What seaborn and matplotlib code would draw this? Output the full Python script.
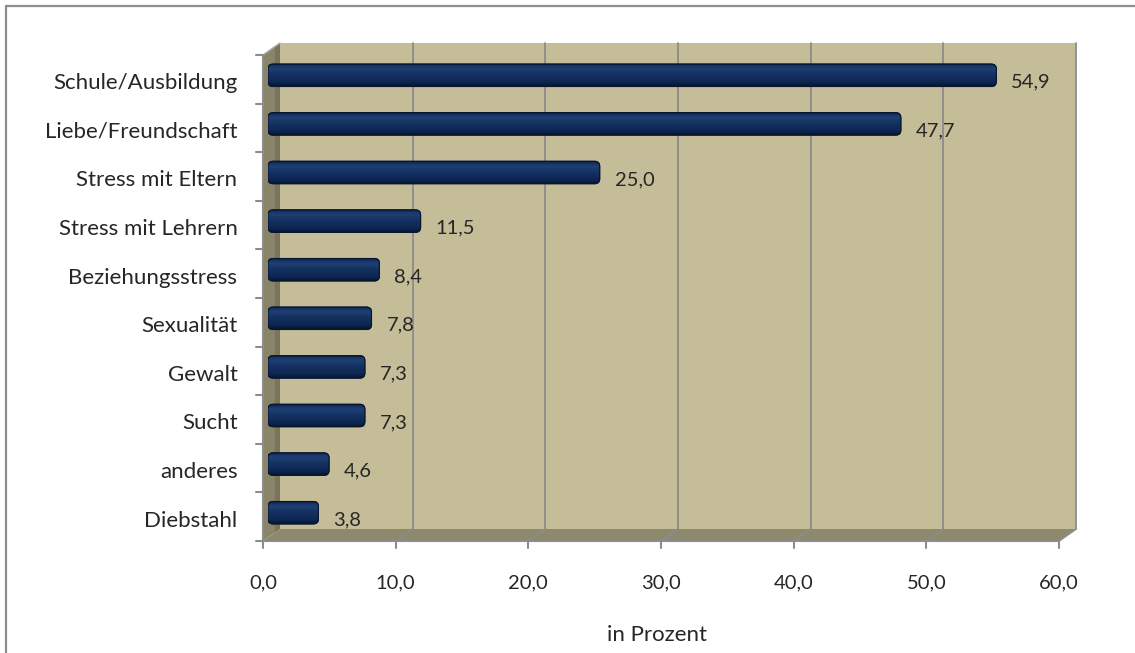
import numpy as np
import pandas as pd
import matplotlib
matplotlib.use("Agg")
import matplotlib.pyplot as plt
import seaborn as sns
from matplotlib.patches import Polygon, FancyBboxPatch
from matplotlib.lines import Line2D
from matplotlib.transforms import IdentityTransform, ScaledTranslation
from matplotlib.colors import LinearSegmentedColormap

# ---- data ----
categories = ["Schule/Ausbildung", "Liebe/Freundschaft", "Stress mit Eltern",
              "Stress mit Lehrern", "Beziehungsstress", "Sexualität", "Gewalt",
              "Sucht", "anderes", "Diebstahl"]
values = [54.9, 47.7, 25.0, 11.5, 8.4, 7.8, 7.3, 7.3, 4.6, 3.8]
x_ticks = [0, 10, 20, 30, 40, 50, 60]
x_tick_labels = ["0,0", "10,0", "20,0", "30,0", "40,0", "50,0", "60,0"]
x_label = "in Prozent"

df = pd.DataFrame({"Kategorie": categories, "Prozent": values})

sns.set_theme(style="white")
plt.rcParams["font.family"] = ["Lato", "DejaVu Sans"]

W, H, DPI = 1135, 653, 100
fig = plt.figure(figsize=(W / DPI, H / DPI), dpi=DPI)
fig.patch.set_facecolor("white")

# plotting plane (the depth at which the bars sit), in pixels
L, R, T, B = 268, 1064, 51, 537
ax = fig.add_axes([L / W, 1 - B / H, (R - L) / W, (B - T) / H])
ax.set_facecolor("none")

sns.barplot(data=df, y="Kategorie", x="Prozent", orient="h", width=0.46,
            color="#102B5A", ax=ax, zorder=3)
ax.set_xlim(0, 60)
ax.set_ylim(len(categories) - 0.5, -0.5)
for s in ax.spines.values():
    s.set_visible(False)
ax.set_xlabel("")
ax.set_ylabel("")

# depth offsets (display pixels, y up)
BACK = np.array([12.0, 8.0])
FRONT = np.array([-5.0, -4.0])


def px(xd, yd, off):
    return ax.transData.transform((xd, yd)) + off


ident = IdentityTransform()
y_top, y_bot = -0.5, len(categories) - 0.5

# back wall
wall = Polygon([px(0, y_top, BACK), px(60, y_top, BACK), px(60, y_bot, BACK), px(0, y_bot, BACK)],
               closed=True, facecolor="#C4BD97", edgecolor="none", transform=ident,
               clip_on=False, zorder=0.2)
ax.add_artist(wall)

# floor
floor = Polygon([px(0, y_bot, BACK), px(60, y_bot, BACK), px(60, y_bot, FRONT), px(0, y_bot, FRONT)],
                closed=True, facecolor="#8E896C", edgecolor="none", transform=ident,
                clip_on=False, zorder=0.3)
ax.add_artist(floor)

grid_col = "#8C8C8C"
for xv in x_ticks[1:]:
    b0 = px(xv, y_bot, BACK)
    b1 = px(xv, y_top, BACK)
    f0 = px(xv, y_bot, FRONT)
    ax.add_artist(Line2D([b0[0], b1[0]], [b0[1], b1[1]], color=grid_col, lw=1.3,
                         transform=ident, clip_on=False, zorder=0.5))
    ax.add_artist(Line2D([b0[0], f0[0]], [b0[1], f0[1]], color=grid_col, lw=1.3,
                         transform=ident, clip_on=False, zorder=0.5))

# left side wall
side = Polygon([px(0, y_top, FRONT), px(0, y_top, BACK), px(0, y_bot, BACK), px(0, y_bot, FRONT)],
               closed=True, facecolor="#8A8569", edgecolor="none", transform=ident,
               clip_on=False, zorder=0.6)
ax.add_artist(side)
inner = Polygon([px(0, y_top, FRONT * 0.3 + BACK * 0.7), px(0, y_top, BACK),
                 px(0, y_bot, BACK), px(0, y_bot, FRONT * 0.3 + BACK * 0.7)],
                closed=True, facecolor="#6F6B55", edgecolor="none", transform=ident,
                clip_on=False, zorder=0.65, alpha=0.6)
ax.add_artist(inner)
ax.add_artist(Line2D(*zip(px(0, y_top, FRONT), px(0, y_top, BACK)), color="#A8A8A8", lw=1.0,
                     transform=ident, clip_on=False, zorder=0.7))

# front axis lines and ticks
p0, p1 = px(0, y_bot, FRONT), px(60, y_bot, FRONT)
ax.add_artist(Line2D([p0[0], p1[0]], [p0[1], p1[1]], color=grid_col, lw=1.5,
                     transform=ident, clip_on=False, zorder=0.8))
for xv in x_ticks:
    q = px(xv, y_bot, FRONT)
    ax.add_artist(Line2D([q[0], q[0]], [q[1], q[1] - 7], color=grid_col, lw=1.5,
                         transform=ident, clip_on=False, zorder=0.8))
q0, q1 = px(0, y_top, FRONT), px(0, y_bot, FRONT)
ax.add_artist(Line2D([q0[0], q1[0]], [q0[1], q1[1]], color=grid_col, lw=1.5,
                     transform=ident, clip_on=False, zorder=0.8))
for k in range(len(categories) + 1):
    q = px(0, k - 0.5, FRONT)
    ax.add_artist(Line2D([q[0] - 7, q[0]], [q[1], q[1]], color=grid_col, lw=1.5,
                         transform=ident, clip_on=False, zorder=0.8))

# bars: rounded caps with a cylindrical shading
bar_cmap = LinearSegmentedColormap.from_list(
    "tube", [(0.0, "#091B3C"), (0.12, "#18366A"), (0.25, "#203F72"),
             (0.45, "#143263"), (0.8, "#0E2854"), (1.0, "#071733")])
grad = np.linspace(0, 1, 64).reshape(-1, 1)
px_per_x = (R - L) / 60.0
px_per_y = (B - T) / len(categories)
rad_x = 5.0 / px_per_x
aspect = (5.0 / px_per_y) / rad_x
for rect in list(ax.patches):
    if not hasattr(rect, "get_width"):
        continue
    x0, y0 = rect.get_x(), rect.get_y()
    w, h = rect.get_width(), rect.get_height()
    rect.set_visible(False)
    tube = FancyBboxPatch((x0, y0), w, h, boxstyle=f"round,pad=0,rounding_size={rad_x}",
                          mutation_aspect=aspect, facecolor="#102B5A",
                          edgecolor="#061530", lw=0.8, zorder=3)
    ax.add_patch(tube)
    im = ax.imshow(grad, cmap=bar_cmap, extent=(x0, x0 + w, y0 + h, y0),
                   aspect="auto", zorder=3.1, interpolation="bilinear")
    im.set_clip_path(tube)
    edge = FancyBboxPatch((x0, y0), w, h, boxstyle=f"round,pad=0,rounding_size={rad_x}",
                          mutation_aspect=aspect, facecolor="none",
                          edgecolor="#061530", lw=0.8, zorder=3.2)
    ax.add_patch(edge)

ax.set_xlim(0, 60)
ax.set_ylim(len(categories) - 0.5, -0.5)

# value labels
for i, v in enumerate(values):
    ax.annotate(f"{v:.1f}".replace(".", ","), xy=(v, i), xytext=(15, -7),
                textcoords="offset pixels", ha="left", va="center",
                fontsize=14.5, color="#262626", zorder=4)

# tick labels
ax.set_xticks(x_ticks)
ax.set_xticklabels(x_tick_labels)
ax.tick_params(axis="x", length=0, pad=27, labelsize=14.5, labelcolor="#262626")
ax.tick_params(axis="y", length=0, pad=22, labelsize=16, labelcolor="#262626")
for lab in ax.get_xticklabels():
    lab.set_transform(lab.get_transform() + ScaledTranslation(-0.05, 0, fig.dpi_scale_trans))
for lab in ax.get_yticklabels():
    lab.set_transform(lab.get_transform() + ScaledTranslation(0, -0.06, fig.dpi_scale_trans))

fig.text(657 / W, 1 - 635 / H, x_label, ha="center", va="center", fontsize=16,
         color="#262626")

# chart frame
fig.add_artist(Line2D([6 / W, 1.0], [1 - 6 / H, 1 - 6 / H], color="#8E8E8E", lw=1.6,
                      transform=fig.transFigure))
fig.add_artist(Line2D([6 / W, 6 / W], [0.0, 1 - 6 / H], color="#8E8E8E", lw=1.6,
                      transform=fig.transFigure))

fig.savefig("out.png", dpi=DPI)
